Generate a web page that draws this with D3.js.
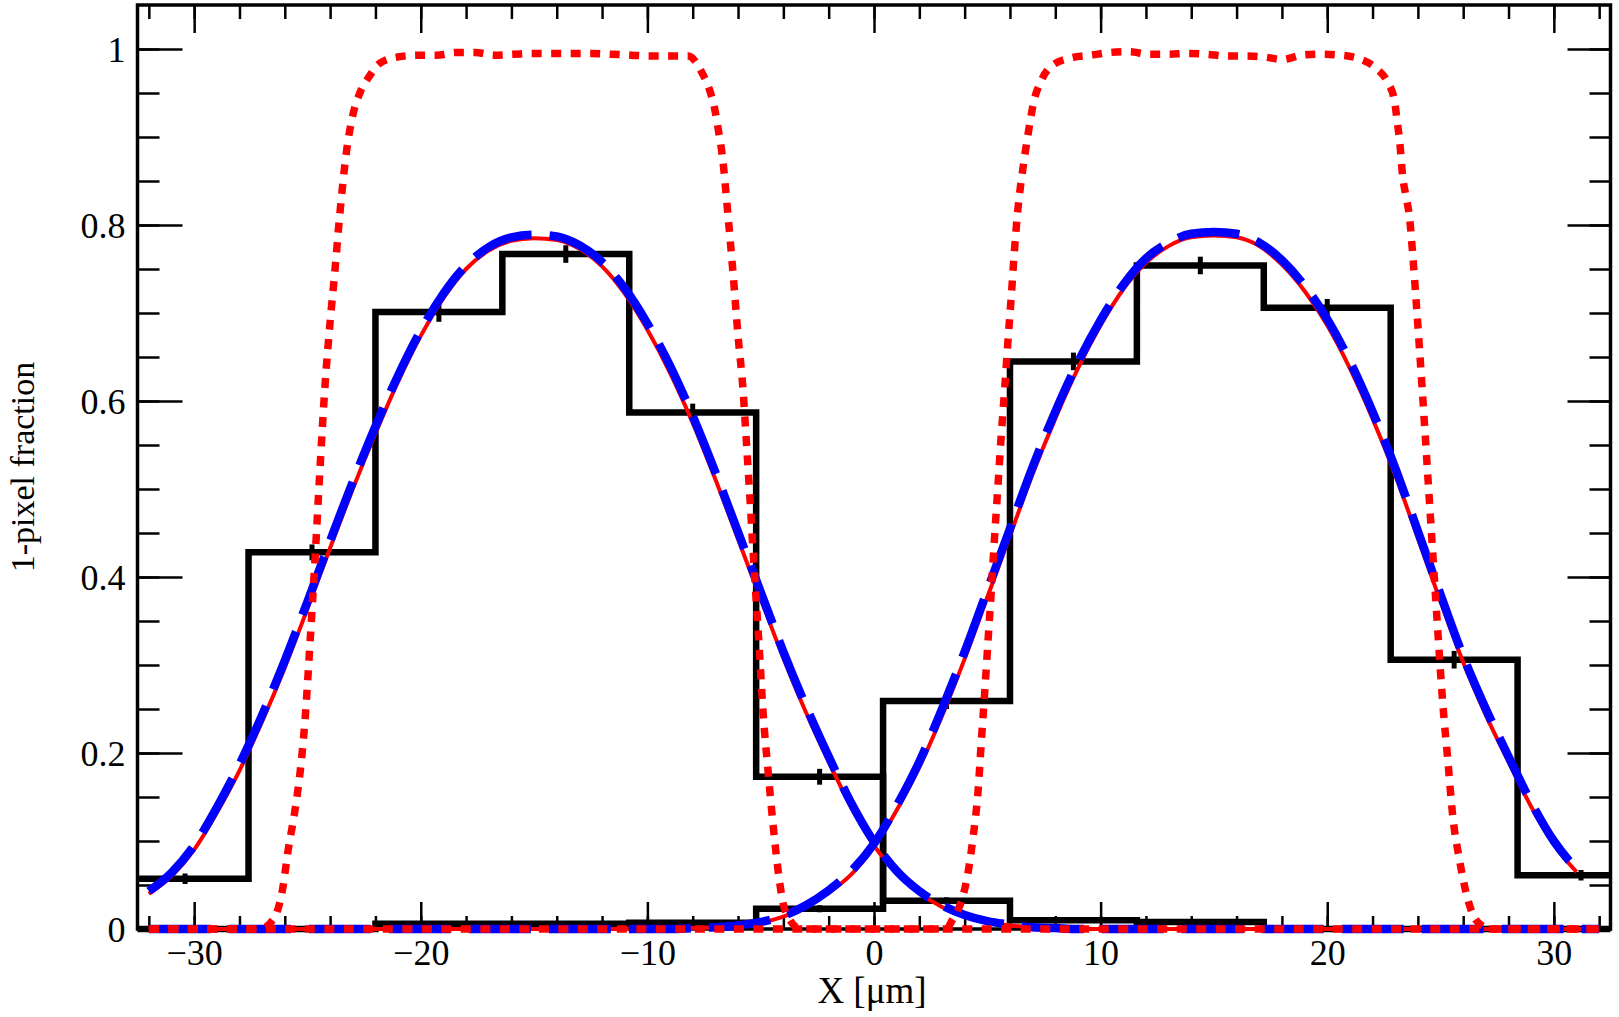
<!DOCTYPE html>
<html>
<head>
<meta charset="utf-8">
<script src="https://cdn.jsdelivr.net/npm/d3@7"></script>
<style>
  html, body { margin: 0; padding: 0; background: #fff; }
  svg { display: block; font-family: "Liberation Serif", "Times New Roman", serif; }
</style>
</head>
<body>
<svg id="chart" width="1619" height="1017"></svg>
<script>
// histogram bin edges in um
const binEdges = [-33.2, -27.6, -22.0, -16.4, -10.8, -5.2, 0.4, 6.0, 11.6, 17.2, 22.8, 28.4, 34.0]
// left pixel 1-pixel fraction per bin
const histLeft = [0.057, 0.428, 0.701, 0.767, 0.587, 0.173, 0.032, 0.010, 0.008, 0, 0, 0]
const histLeftErr = [0.006, 0.009, 0.011, 0.010, 0.010, 0.009, 0.004, 0.002, 0.002, 0, 0, 0]
// right pixel 1-pixel fraction per bin
const histRight = [0, 0, 0.006, 0.006, 0.007, 0.023, 0.259, 0.645, 0.754, 0.706, 0.306, 0.061]
const histRightErr = [0, 0, 0.002, 0.002, 0.002, 0.004, 0.009, 0.010, 0.010, 0.010, 0.010, 0.006]

// x grid the fit curves were read on
const fitX = [-32, -31, -30, -29, -28, -27, -26, -25, -24, -23, -22, -21, -20, -19, -18, -17, -16,
  -15, -14, -13, -12, -11, -10, -9, -8, -7, -6, -5, -4, -3, -2, -1, 0, 1, 2, 3, 4, 5, 6, 7, 8,
  9, 10, 11, 12, 13, 14, 15, 16, 17, 18, 19, 20, 21, 22, 23, 24, 25, 26, 27, 28, 29, 30, 31, 32]
// blue dashed fit, left pixel
const fitLeftBlue = [0.043, 0.064, 0.095, 0.138, 0.187, 0.243, 0.305, 0.372, 0.441, 0.508, 0.571,
  0.629, 0.680, 0.722, 0.754, 0.775, 0.786, 0.789, 0.787, 0.777, 0.758, 0.728, 0.688, 0.640, 0.583,
  0.519, 0.451, 0.383, 0.315, 0.253, 0.196, 0.143, 0.099, 0.066, 0.043, 0.027, 0.016, 0.009, 0.005,
  0.002, 0.001, 0, 0, 0, 0, 0, 0, 0, 0, 0, 0, 0, 0, 0, 0, 0, 0, 0, 0, 0, 0, 0, 0, 0, 0]
// red solid fit, left pixel
const fitLeftRed = [0.040, 0.060, 0.090, 0.132, 0.180, 0.236, 0.297, 0.364, 0.433, 0.500, 0.563,
  0.622, 0.674, 0.717, 0.750, 0.771, 0.782, 0.785, 0.783, 0.773, 0.753, 0.722, 0.681, 0.632, 0.575,
  0.511, 0.443, 0.375, 0.308, 0.246, 0.190, 0.138, 0.095, 0.063, 0.041, 0.025, 0.015, 0.008, 0.004,
  0.002, 0.001, 0, 0, 0, 0, 0, 0, 0, 0, 0, 0, 0, 0, 0, 0, 0, 0, 0, 0, 0, 0, 0, 0, 0, 0]
// blue dashed fit, right pixel (ends at 31)
const fitRightBlue = [0, 0, 0, 0, 0, 0, 0, 0, 0, 0, 0, 0, 0, 0, 0, 0, 0, 0, 0, 0, 0, 0, 0, 0, 0.001,
  0.002, 0.004, 0.008, 0.015, 0.027, 0.044, 0.066, 0.097, 0.140, 0.190, 0.250, 0.315, 0.385, 0.455,
  0.525, 0.588, 0.644, 0.692, 0.732, 0.762, 0.780, 0.790, 0.792, 0.790, 0.780, 0.760, 0.731, 0.693,
  0.645, 0.588, 0.524, 0.452, 0.380, 0.310, 0.250, 0.196, 0.144, 0.100, 0.068, null]
// red solid fit, right pixel
const fitRightRed = [0, 0, 0, 0, 0, 0, 0, 0, 0, 0, 0, 0, 0, 0, 0, 0, 0, 0, 0, 0, 0, 0, 0, 0, 0.001,
  0.002, 0.004, 0.007, 0.014, 0.025, 0.041, 0.062, 0.093, 0.135, 0.184, 0.242, 0.307, 0.377, 0.447,
  0.517, 0.580, 0.637, 0.686, 0.727, 0.757, 0.776, 0.786, 0.788, 0.786, 0.776, 0.755, 0.725, 0.686,
  0.637, 0.580, 0.516, 0.444, 0.372, 0.303, 0.243, 0.190, 0.139, 0.096, 0.065, null]

// red dotted efficiency, left pixel
const effLeftX = [-32, -28, -27.2, -26.95, -26.6, -26.36, -26.1, -25.85, -25.55, -25.33, -25.11,
  -24.9, -24.67, -24.45, -24.23, -24.0, -23.8, -23.57, -23.27, -22.98, -22.69, -22.32, -21.8, -21.0,
  -20.1, -19.3, -18.45, -17.6, -16.73, -15.9, -15.0, -14.16, -13.3, -12.46, -11.58, -10.7, -9.9,
  -9.0, -8.2, -7.61, -7.25, -7.03, -6.85, -6.7, -6.44, -6.22, -6.0, -5.78, -5.63, -5.48, -5.34,
  -5.19, -5.04, -4.9, -4.68, -4.46, -4.23, -4.01, -3.72, -3.42, -3.1, 0, 32]
const effLeftY = [0, 0, 0, 0.001, 0.008, 0.018, 0.045, 0.090, 0.135, 0.177, 0.237,
  0.320, 0.419, 0.522, 0.616, 0.690, 0.745, 0.813, 0.885, 0.927, 0.950, 0.967, 0.984, 0.991,
  0.993, 0.993, 0.996, 0.996, 0.993, 0.994, 0.995, 0.995, 0.995, 0.995, 0.994, 0.993, 0.992,
  0.992, 0.992, 0.974, 0.953, 0.932, 0.905, 0.880, 0.810, 0.745, 0.674, 0.613, 0.553, 0.492, 0.431,
  0.370, 0.309, 0.248, 0.181, 0.120, 0.066, 0.029, 0.011, 0.002, 0, 0, 0]
// red dotted efficiency, right pixel
const effRightX = [-32, 0, 3.2, 3.45, 3.64, 3.93, 4.15, 4.37, 4.59, 4.74, 4.88, 5.03, 5.18, 5.32,
  5.47, 5.62, 5.77, 5.91, 6.06, 6.2, 6.35, 6.57, 6.79, 7.05, 7.38, 7.9, 8.71, 9.59, 10.4, 11.28,
  12.13, 12.97, 13.85, 14.69, 15.55, 16.4, 17.2, 18.02, 18.86, 19.74, 20.57, 21.4, 22.16, 22.67,
  22.97, 23.1, 23.19, 23.33, 23.48, 23.63, 23.78, 23.9, 24.2, 24.5, 24.8, 25.1, 25.32, 25.54, 25.84,
  26.13, 26.4, 26.87, 27.1, 28, 32]
const effRightY = [0, 0, 0, 0.010, 0.018, 0.038, 0.064, 0.104, 0.156, 0.215, 0.267, 0.327, 0.386,
  0.445, 0.504, 0.563, 0.615, 0.668, 0.720, 0.772, 0.818, 0.864, 0.902, 0.940, 0.964, 0.982, 0.990,
  0.993, 0.996, 0.997, 0.994, 0.994, 0.995, 0.994, 0.992, 0.992, 0.991, 0.988, 0.993, 0.994, 0.993,
  0.989, 0.978, 0.962, 0.941, 0.915, 0.897, 0.855, 0.832, 0.809, 0.764, 0.722, 0.610, 0.490, 0.370,
  0.256, 0.192, 0.128, 0.078, 0.041, 0.018, 0.003, 0, 0, 0]

// tick labels
const xTicks = [-30, -20, -10, 0, 10, 20, 30]
const yTicks = [0, 0.2, 0.4, 0.6, 0.8, 1]
const xMinor = d3.range(-32, 33, 2)
const yMinor = d3.range(0, 21).map(i => i * 0.05)

const svg = d3.select('#chart')
const width = 1619
const height = 1017
// plot frame
const frame = {left: 137.5, right: 1610.5, top: 5, bottom: 929}

const x = d3.scaleLinear().domain([-32.5, 32.5]).range([frame.left, frame.right])
const y = d3.scaleLinear().domain([0, 1.05]).range([frame.bottom, frame.top])

svg.append('rect').attr('width', width).attr('height', height).attr('fill', '#fff')

// ticks on all four sides, pointing inward
function styleAxis(g, labels) {
  g.select('.domain').remove()
  g.selectAll('.tick line').attr('stroke', '#000').attr('stroke-width', 2.5)
  g.attr('font-family', null).attr('font-size', 36)
  g.selectAll('.tick text').attr('fill', '#000')
  if (!labels) g.selectAll('.tick text').remove()
}

svg.append('g').attr('transform', `translate(0,${frame.bottom})`)
  .call(d3.axisBottom(x).tickValues(xMinor).tickSize(-13).tickFormat(''))
  .call(g => styleAxis(g, false))
svg.append('g').attr('transform', `translate(0,${frame.bottom})`)
  .call(d3.axisBottom(x).tickValues(xTicks).tickSize(-27).tickPadding(10).tickFormat(d3.format('d')))
  .call(g => styleAxis(g, true))
svg.append('g').attr('transform', `translate(0,${frame.top})`)
  .call(d3.axisTop(x).tickValues(xMinor).tickSize(-14).tickFormat(''))
  .call(g => styleAxis(g, false))
svg.append('g').attr('transform', `translate(0,${frame.top})`)
  .call(d3.axisTop(x).tickValues(xTicks).tickSize(-28).tickFormat(''))
  .call(g => styleAxis(g, false))

svg.append('g').attr('transform', `translate(${frame.left},0)`)
  .call(d3.axisLeft(y).tickValues(yMinor).tickSize(-22).tickFormat(''))
  .call(g => styleAxis(g, false))
svg.append('g').attr('transform', `translate(${frame.left},0)`)
  .call(d3.axisLeft(y).tickValues(yTicks).tickSize(-45).tickPadding(12).tickFormat(d3.format('~g')))
  .call(g => styleAxis(g, true))
  .call(g => g.selectAll('.tick text').attr('dy', '0.36em'))
svg.append('g').attr('transform', `translate(${frame.right},0)`)
  .call(d3.axisRight(y).tickValues(yMinor).tickSize(-21).tickFormat(''))
  .call(g => styleAxis(g, false))
svg.append('g').attr('transform', `translate(${frame.right},0)`)
  .call(d3.axisRight(y).tickValues(yTicks).tickSize(-43).tickFormat(''))
  .call(g => styleAxis(g, false))

svg.append('rect')
  .attr('x', frame.left).attr('y', frame.top)
  .attr('width', frame.right - frame.left).attr('height', frame.bottom - frame.top)
  .attr('fill', 'none').attr('stroke', '#000').attr('stroke-width', 3.5)

// axis titles
svg.append('text')
  .attr('x', 872).attr('y', 1003)
  .attr('text-anchor', 'middle').attr('font-size', 37)
  .text('X [\u03bcm]')
svg.append('text')
  .attr('transform', 'translate(34,467) rotate(-90)')
  .attr('text-anchor', 'middle').attr('font-size', 34)
  .text('1-pixel fraction')

// clip to the frame horizontally only, so lines along y = 0 keep full width
svg.append('clipPath').attr('id', 'clip')
  .append('rect').attr('x', frame.left).attr('y', 0)
  .attr('width', frame.right - frame.left).attr('height', height)
const plot = svg.append('g').attr('clip-path', 'url(#clip)')

// step outline for a histogram
const stepLine = d3.line()
  .x(d => x(d[0])).y(d => y(d[1]))
  .curve(d3.curveStepAfter)
function drawHist(values, errors) {
  const pts = values.map((v, i) => [binEdges[i], v])
  pts.push([binEdges[binEdges.length - 1], values[values.length - 1]])
  plot.append('path').datum(pts)
    .attr('d', stepLine)
    .attr('fill', 'none').attr('stroke', '#000').attr('stroke-width', 6.5)
    .attr('stroke-linejoin', 'miter')
  const bars = values.map((v, i) => ({c: (binEdges[i] + binEdges[i + 1]) / 2, v, e: errors[i]}))
    .filter(d => d.e > 0)
  plot.selectAll(null).data(bars).enter().append('line')
    .attr('x1', d => x(d.c)).attr('x2', d => x(d.c))
    .attr('y1', d => y(d.v - d.e)).attr('y2', d => y(d.v + d.e))
    .attr('stroke', '#000').attr('stroke-width', 5)
}
drawHist(histLeft, histLeftErr)
drawHist(histRight, histRightErr)

const curve = d3.line()
  .defined(d => d[1] !== null)
  .x(d => x(d[0])).y(d => y(d[1]))
  .curve(d3.curveMonotoneX)

function drawCurve(xs, ys, color, widthPx, dash) {
  plot.append('path').datum(xs.map((v, i) => [v, ys[i]]))
    .attr('d', curve)
    .attr('fill', 'none').attr('stroke', color).attr('stroke-width', widthPx)
    .attr('stroke-dasharray', dash)
}
// solid red fits, then blue dashed fits, dotted efficiencies on top
drawCurve(fitX, fitLeftRed, '#ff0000', 4, null)
drawCurve(fitX, fitRightRed, '#ff0000', 4, null)
drawCurve(fitX, fitLeftBlue, '#0000ff', 8.5, '62 18')
drawCurve(fitX, fitRightBlue, '#0000ff', 8.5, '62 18')
drawCurve(effLeftX, effLeftY, '#ff0000', 7.5, '10 9.5')
drawCurve(effRightX, effRightY, '#ff0000', 7.5, '10 9.5')
</script>
</body>
</html>
